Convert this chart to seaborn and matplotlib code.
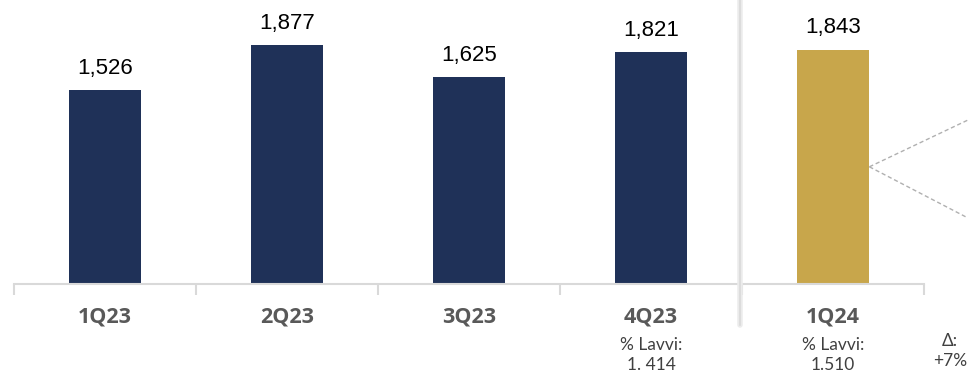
import matplotlib
matplotlib.use("Agg")
import matplotlib.pyplot as plt
import seaborn as sns
import pandas as pd
from matplotlib.lines import Line2D

quarters = ["1Q23", "2Q23", "3Q23", "4Q23", "1Q24"]
values = [1526, 1877, 1625, 1821, 1843]
value_labels = ["1,526", "1,877", "1,625", "1,821", "1,843"]
lavvi_labels = ["", "", "", "% Lavvi:\n1. 414", "% Lavvi:\n1.510"]
delta_label = "Δ:\n+7%"

navy = "#1f3158"
gold = "#c8a64b"
bar_colors = [navy, navy, navy, navy, gold]

sns.set_theme(style="white")
plt.rcParams["font.family"] = ["Open Sans", "DejaVu Sans"]

df = pd.DataFrame({"quarter": quarters, "value": values})

fig = plt.figure(figsize=(9.68, 3.77), dpi=100)
ax = fig.add_axes([14 / 968, 93 / 377, 910 / 968, 284 / 377])

sns.barplot(data=df, x="quarter", y="value", hue="quarter",
            palette=bar_colors, width=0.4, legend=False, ax=ax,
            edgecolor="none", saturation=1)

ax.set_xlim(-0.5, 4.5)
ax.set_ylim(0, 2233)
ax.set_yticks([])
ax.set_ylabel("")
ax.set_xlabel("")
for side in ["left", "right", "top"]:
    ax.spines[side].set_visible(False)
ax.spines["bottom"].set_color("#d9d9d9")
ax.spines["bottom"].set_linewidth(1.5)

# category dividers below the axis
ax.set_xticks([i - 0.5 for i in range(len(quarters) + 1)], minor=True)
ax.tick_params(axis="x", which="minor", length=8, width=1.5, color="#d9d9d9",
               direction="out", bottom=True)
ax.tick_params(axis="x", which="major", length=0, pad=16)
ax.set_xticks(range(len(quarters)))
ax.set_xticklabels(quarters, fontsize=15.5, fontweight="bold", color="#595959")

# value labels above bars
for i, (v, lab) in enumerate(zip(values, value_labels)):
    ax.annotate(lab, (i, v), xytext=(0, 8), textcoords="offset points",
                ha="center", va="bottom", fontsize=16, color="black",
                family=["Liberation Sans", "DejaVu Sans"])

# Lavvi sub-labels
for i, lab in enumerate(lavvi_labels):
    if lab:
        ax.annotate(lab, (i, 0), xytext=(0, -38), textcoords="offset points",
                    ha="center", va="top", fontsize=12.5, color="#404040",
                    linespacing=1.3, family=["Lato", "DejaVu Sans"],
                    annotation_clip=False)

fig.text(950 / 968, 1 - 333 / 377, delta_label, ha="center", va="top",
         fontsize=12.5, color="#404040", linespacing=1.3,
         family=["Lato", "DejaVu Sans"])

# separator between years
fig.add_artist(Line2D([740 / 968, 740 / 968], [1 - 325 / 377, 1.0],
                      transform=fig.transFigure, color="#ececec", lw=4))
fig.add_artist(Line2D([740 / 968, 740 / 968], [1 - 325 / 377, 1.0],
                      transform=fig.transFigure, color="#dcdcdc", lw=1.5))

# dashed callout from the latest bar
x0 = 4 + 0.2
y0 = values[4] / 2
start = ax.transData.transform((x0, y0))
start_fig = fig.transFigure.inverted().transform(start)
for end_y in [1 - 120 / 377, 1 - 218 / 377]:
    fig.add_artist(Line2D([start_fig[0], 1.0], [start_fig[1], end_y],
                          transform=fig.transFigure, color="#b0b0b0",
                          lw=1, ls=(0, (3, 2))))

fig.savefig("out.png", dpi=100)
